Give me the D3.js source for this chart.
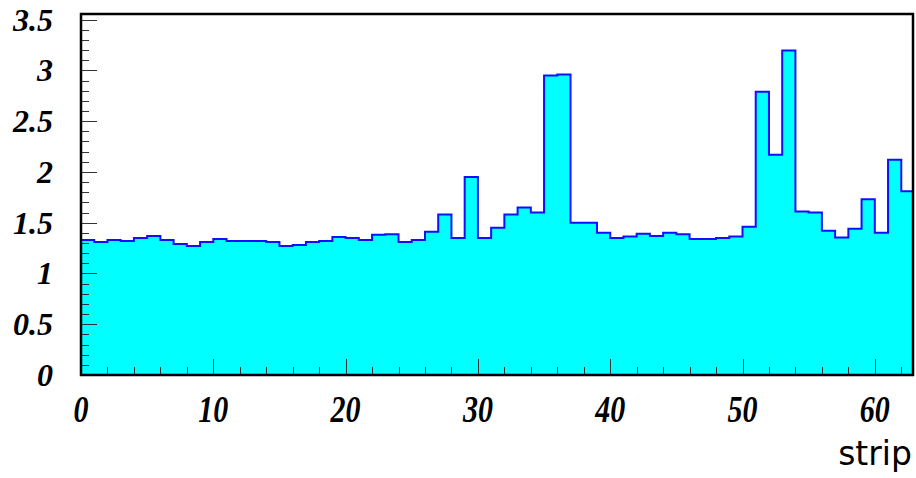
<!DOCTYPE html>
<html>
<head>
<meta charset="utf-8">
<script src="https://cdn.jsdelivr.net/npm/d3@7"></script>
<style>
  html, body { margin: 0; padding: 0; background: #fff; }
  svg { display: block; }
</style>
</head>
<body>
<svg id="chart" width="916" height="478"></svg>
<script>
// bin contents, strips 0..62
const stripValues = [
    1.33, 1.31, 1.33, 1.32, 1.35, 1.37, 1.33, 1.29, 1.27, 1.31,
    1.34, 1.32, 1.32, 1.32, 1.31, 1.27, 1.28, 1.31, 1.32, 1.36,
    1.35, 1.33, 1.38, 1.385, 1.31, 1.33, 1.41, 1.58, 1.35, 1.95,
    1.35, 1.45, 1.58, 1.65, 1.60, 2.95, 2.96, 1.50, 1.50, 1.40,
    1.35, 1.365, 1.39, 1.37, 1.40, 1.385, 1.34, 1.34, 1.35, 1.365,
    1.46, 2.79, 2.17, 3.195, 1.61, 1.60, 1.42, 1.355, 1.44, 1.73,
    1.40, 2.12, 1.81
];
const xMajorTicks = [0, 10, 20, 30, 40, 50, 60];
const yMajorTicks = [0, 0.5, 1, 1.5, 2, 2.5, 3, 3.5];
const yTickLabels = ['0', '0.5', '1', '1.5', '2', '2.5', '3', '3.5'];
const xTitle = 'strip';

const svg = d3.select('#chart');
const plot = { left: 81, right: 913, top: 14, bottom: 375 };

const x = d3.scaleLinear().domain([0, 63]).range([plot.left, plot.right + 1.5]);
const y = d3.scaleLinear().domain([0, 3.555]).range([plot.bottom, plot.top]);

// histogram outline as steps
const bins = stripValues.map((v, i) => ({ x0: i, x1: i + 1, v }));
const pts = [[x(0), y(0)]];
bins.forEach(b => {
    pts.push([x(b.x0), y(b.v)]);
    pts.push([x(b.x1), y(b.v)]);
});
pts.push([x(63), y(0)]);

const line = d3.line();

svg.append('clipPath').attr('id', 'clip')
    .append('rect')
    .attr('x', plot.left).attr('y', plot.top)
    .attr('width', plot.right - plot.left).attr('height', plot.bottom - plot.top);

const g = svg.append('g').attr('clip-path', 'url(#clip)');

g.append('path')
    .attr('d', line(pts) + 'Z')
    .attr('fill', '#00ffff')
    .attr('stroke', 'none');

g.append('path')
    .attr('d', line(pts.slice(0, pts.length - 1)))
    .attr('fill', 'none')
    .attr('stroke', '#1010ff')
    .attr('stroke-width', 2);

// ticks (drawn inside the frame, ROOT style)
const yMinor = d3.range(0, 36).map(d => d / 10);
const xMinor = d3.range(0, 64, 2);

const ticks = svg.append('g').attr('stroke', '#333').attr('stroke-width', 1);

ticks.selectAll('.ytick')
    .data(yMinor)
    .enter()
    .append('line')
    .attr('x1', plot.left)
    .attr('x2', d => plot.left + (Math.abs(d * 2 - Math.round(d * 2)) < 1e-6 ? 16 : 8))
    .attr('y1', d => Math.round(y(d)) + 0.5)
    .attr('y2', d => Math.round(y(d)) + 0.5);

ticks.selectAll('.xtick')
    .data(xMinor)
    .enter()
    .append('line')
    .attr('x1', d => Math.round(x(d)) + 0.5)
    .attr('x2', d => Math.round(x(d)) + 0.5)
    .attr('y1', plot.bottom)
    .attr('y2', d => plot.bottom - (d % 10 === 0 ? 16 : 8));

// frame
svg.append('rect')
    .attr('x', plot.left).attr('y', plot.top)
    .attr('width', plot.right - plot.left).attr('height', plot.bottom - plot.top)
    .attr('fill', 'none')
    .attr('stroke', '#000')
    .attr('stroke-width', 2.5);

// tick labels
const labelFont = '"Liberation Serif", "Times New Roman", serif';

svg.selectAll('.ylabel')
    .data(yMajorTicks)
    .enter()
    .append('text')
    .attr('x', 53)
    .attr('y', d => y(d) + 11)
    .attr('text-anchor', 'end')
    .style('font-family', labelFont)
    .style('font-weight', 'bold')
    .style('font-style', 'italic')
    .style('font-size', '32px')
    .text((d, i) => yTickLabels[i]);

svg.selectAll('.xlabel')
    .data(xMajorTicks)
    .enter()
    .append('text')
    .attr('transform', d => `translate(${x(d)},${422}) scale(1,1.25)`)
    .attr('text-anchor', 'middle')
    .style('font-family', labelFont)
    .style('font-weight', 'bold')
    .style('font-style', 'italic')
    .style('font-size', '30px')
    .text(d => d);

// axis title
svg.append('text')
    .attr('x', 912)
    .attr('y', 465)
    .attr('text-anchor', 'end')
    .style('font-family', '"DejaVu Sans", sans-serif')
    .style('font-size', '33px')
    .text(xTitle);
</script>
</body>
</html>
